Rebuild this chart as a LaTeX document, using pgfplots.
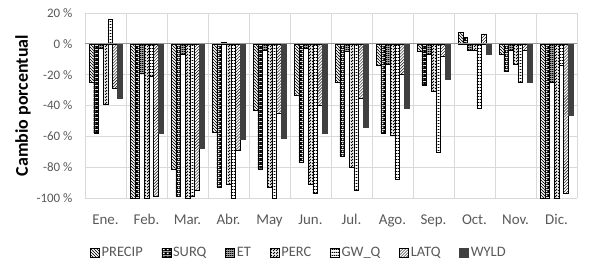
\documentclass[border=0pt]{standalone}
\usepackage{pgfplots}
\pgfplotsset{compat=1.18}
\usepackage{fontspec}
\setmainfont{Carlito}
\usetikzlibrary{patterns}
\definecolor{gridgray}{HTML}{D9D9D9}
\definecolor{txtgray}{HTML}{595959}
\definecolor{wyld}{HTML}{404040}
\pgfdeclarepatterninherentlycolored{surqpat}{\pgfqpoint{0bp}{0bp}}{\pgfqpoint{3.6bp}{3.6bp}}{\pgfqpoint{3.6bp}{3.6bp}}{%
  \pgfsetfillcolor{black}\pgfpathrectangle{\pgfqpoint{0bp}{0bp}}{\pgfqpoint{3.6bp}{3.6bp}}\pgfusepath{fill}%
  \pgfsetfillcolor{white}\pgfpathrectangle{\pgfqpoint{0.9bp}{0.9bp}}{\pgfqpoint{1.8bp}{1.8bp}}\pgfusepath{fill}}
\pgfdeclarepatterninherentlycolored{etpat}{\pgfqpoint{0bp}{0bp}}{\pgfqpoint{1.6bp}{1.6bp}}{\pgfqpoint{1.6bp}{1.6bp}}{%
  \pgfsetfillcolor{black}\pgfpathrectangle{\pgfqpoint{0bp}{0bp}}{\pgfqpoint{1.6bp}{1.6bp}}\pgfusepath{fill}%
  \pgfsetfillcolor{white}\pgfpathrectangle{\pgfqpoint{0.4bp}{0.4bp}}{\pgfqpoint{0.6bp}{0.6bp}}\pgfusepath{fill}}
\pgfdeclarepatternformonly{hlines}{\pgfqpoint{0bp}{0bp}}{\pgfqpoint{2bp}{2.6bp}}{\pgfqpoint{2bp}{2.6bp}}{%
  \pgfpathrectangle{\pgfqpoint{0bp}{0bp}}{\pgfqpoint{2bp}{1.1bp}}\pgfusepath{fill}}
\pgfdeclarepatternformonly{dashdiag}{\pgfqpoint{-1bp}{-1bp}}{\pgfqpoint{4bp}{4bp}}{\pgfqpoint{3bp}{3bp}}{%
  \pgfsetlinewidth{0.8bp}\pgfpathmoveto{\pgfqpoint{0bp}{0bp}}\pgfpathlineto{\pgfqpoint{2bp}{2bp}}\pgfusepath{stroke}}
\pgfdeclarepatternformonly{nwdense}{\pgfqpoint{-0.5bp}{-0.5bp}}{\pgfqpoint{3.5bp}{3.5bp}}{\pgfqpoint{3bp}{3bp}}{%
  \pgfsetlinewidth{0.6bp}\pgfpathmoveto{\pgfqpoint{-0.5bp}{3.5bp}}\pgfpathlineto{\pgfqpoint{3.5bp}{-0.5bp}}\pgfusepath{stroke}}

\pgfplotstableread{
x PRECIP SURQ ET PERC GWQ LATQ WYLD
0 -25 -58 -3 -39 16 -29 -35
1 -100 -100 -19 -100 -21 -99 -58
2 -81 -99 -7 -100 -99 -95 -68
3 -57 -93 1 -91 -100 -69 -62
4 -43 -81 -4 -93 -100 -45 -61
5 -33 -77 -3 -91 -97 -40 -58
6 -25 -73 -5 -80 -95 -35 -54
7 -14 -58 -13 -59 -88 -20 -42
8 -5 -27 -7 -31 -70 -8 -23
9 7.5 4 -4 -4 -42 6.5 -6.5
10 -6.5 -18 -4 -13 -25 -4 -25
11 -100 -100 -25 -100 -14 -97 -46
}\data

\begin{document}
\begin{tikzpicture}
\begin{axis}[
  scale only axis,
  width=492bp, height=185bp,
  ybar=0pt, bar width=4.7bp,
  xmin=-0.5, xmax=11.5,
  ymin=-100, ymax=20,
  xtick={0,...,11},
  xticklabels={Ene.,Feb.,Mar.,Abr.,May,Jun.,Jul.,Ago.,Sep.,Oct.,Nov.,Dic.},
  minor xtick={-0.5,0.5,...,11.5},
  xminorgrids=true,
  ytick={-100,-80,...,20},
  yticklabels={-100 \%,-80 \%,-60 \%,-40 \%,-20 \%,0 \%,20 \%},
  ymajorgrids=true,
  grid style={gridgray, line width=0.8pt},
  minor grid style={gridgray, line width=0.8pt},
  axis line style={draw=none},
  major tick length=0pt, minor tick length=0pt,
  x tick label style={font=\fontsize{15}{17}\selectfont, text=txtgray, yshift=-13bp},
  y tick label style={font=\fontsize{13}{15}\selectfont, text=txtgray, xshift=-9bp},
  ylabel={\textbf{Cambio porcentual}},
  every axis y label/.style={at={(rel axis cs:0,0.5)}, xshift=-62bp, rotate=90, anchor=center,
    font=\fontsize{18}{20}\selectfont},
  legend style={draw=none, at={(0.435,-0.295)}, anchor=center,
    font=\fontsize{14.5}{16}\selectfont, text=txtgray,
    /tikz/every even column/.append style={column sep=17bp}},
  legend columns=7,
  legend image code/.code={\draw[#1] (0bp,-4.5bp) rectangle (9bp,4.5bp);},
  every axis plot/.append style={draw=black, line width=0.4pt},
  clip=false,
]
\addplot[pattern=nwdense, pattern color=black] table[x=x,y=PRECIP]{\data};
\addplot[pattern=surqpat] table[x=x,y=SURQ]{\data};
\addplot[pattern=etpat] table[x=x,y=ET]{\data};
\addplot[pattern=dashdiag, pattern color=black] table[x=x,y=PERC]{\data};
\addplot[fill=white, pattern=hlines, pattern color=black] table[x=x,y=GWQ]{\data};
\addplot[pattern=north east lines, pattern color=black] table[x=x,y=LATQ]{\data};
\addplot[fill=wyld, draw=wyld] table[x=x,y=WYLD]{\data};
\legend{PRECIP,SURQ,ET,PERC,GW\_Q,LATQ,WYLD}
\draw[gray!80, line width=0.8pt] (axis cs:-0.5,0) -- (axis cs:11.5,0);
\end{axis}
\path ([shift={(-85bp,-71bp)}]current axis.south west) rectangle ([shift={(12bp,13bp)}]current axis.north east);
\end{tikzpicture}
\end{document}
